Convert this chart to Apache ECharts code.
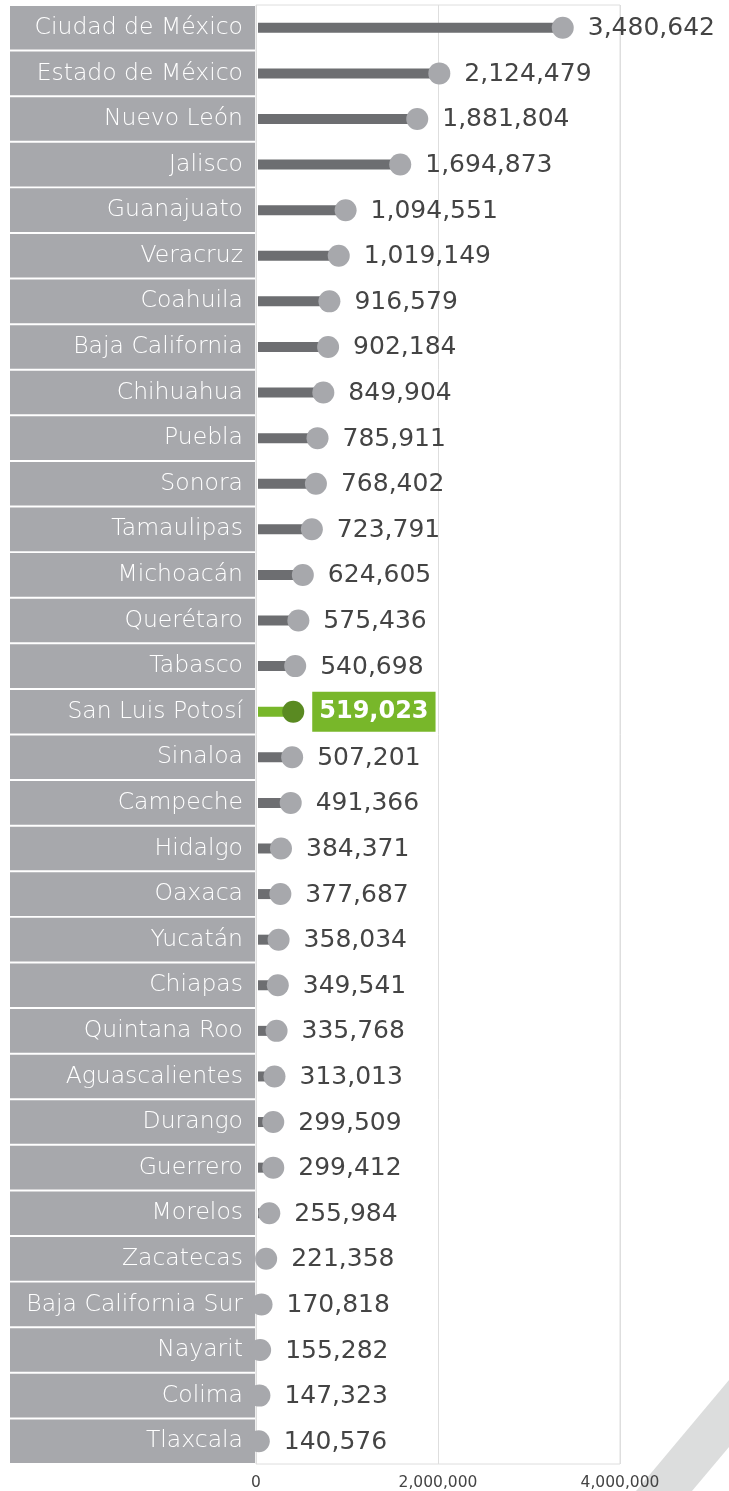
<!DOCTYPE html>
<html>
<head>
<meta charset="utf-8">
<script src="https://cdn.jsdelivr.net/npm/echarts@6/dist/echarts.min.js"></script>
<style>html,body{margin:0;padding:0;background:#fff;}#c{width:729px;height:1491px;}</style>
</head>
<body>
<div id="c"></div>
<script>
const categories = ['Ciudad de México','Estado de México','Nuevo León','Jalisco','Guanajuato','Veracruz','Coahuila','Baja California','Chihuahua','Puebla','Sonora','Tamaulipas','Michoacán','Querétaro','Tabasco','San Luis Potosí','Sinaloa','Campeche','Hidalgo','Oaxaca','Yucatán','Chiapas','Quintana Roo','Aguascalientes','Durango','Guerrero','Morelos','Zacatecas','Baja California Sur','Nayarit','Colima','Tlaxcala'];
const values = [3480642,2124479,1881804,1694873,1094551,1019149,916579,902184,849904,785911,768402,723791,624605,575436,540698,519023,507201,491366,384371,377687,358034,349541,335768,313013,299509,299412,255984,221358,170818,155282,147323,140576];
const highlight = 'San Luis Potosí';
const xTicks = [0, 2000000, 4000000];

const FONT = '"DejaVu Sans", sans-serif';
const chart = echarts.init(document.getElementById('c'));
const fmt = v => v.toLocaleString('en-US');

chart.setOption({
  animation: false,
  grid: {left: 256, right: 109, top: 5, height: 1460, show: true, borderColor: '#dedede', borderWidth: 1},
  graphic: [{
    type: 'polygon', silent: true, z: -1,
    shape: {points: [[636,1491],[729,1380],[729,1447],[692,1491]]},
    style: {fill: '#dcdddd'}
  }],
  xAxis: {
    type: 'value', min: xTicks[0], max: xTicks[xTicks.length-1], interval: 2000000,
    axisLine: {show: false}, axisTick: {show: false},
    splitLine: {lineStyle: {color: '#dedede', width: 1}},
    axisLabel: {color: '#444', fontFamily: FONT, fontSize: 15.5, margin: 11, fontWeight: 'normal',
      formatter: v => fmt(v)}
  },
  yAxis: {
    type: 'category', inverse: true, data: categories,
    axisLine: {show: false}, axisTick: {show: false},
    axisLabel: {
      margin: 1, align: 'right', verticalAlign: 'middle',
      backgroundColor: '#a7a8ac', width: 233, height: 43.6, lineHeight: 43.6,
      padding: [0, 12, 0, 0],
      color: '#fff', fontFamily: FONT, fontSize: 23.5, fontWeight: 200
    }
  },
  series: [{
    type: 'custom', clip: false,
    encode: {x: 0, y: 1},
    data: values.map((v, i) => [v, i]),
    renderItem: (params, api) => {
      const v = api.value(0), idx = api.value(1);
      const p0 = api.coord([0, idx]);
      const p = api.coord([v, idx]);
      const hl = categories[idx] === highlight;
      const cx = p[0] - 10;
      const children = [
        {type: 'rect', shape: {x: p0[0] + 2, y: p[1] - 5, width: Math.max(0, cx - p0[0] - 2), height: 10},
         style: {fill: hl ? '#78b72a' : '#6d6e71'}},
        {type: 'circle', shape: {cx: cx, cy: p[1], r: 11},
         style: {fill: hl ? '#5a8a22' : '#a7a8ac'}}
      ];
      if (hl) {
        children.push({type: 'text', style: {
          text: fmt(v), x: p[0] + 9, y: p[1], verticalAlign: 'middle', align: 'left',
          fill: '#fff', font: 'bold 24px ' + FONT,
          backgroundColor: '#78b72a', padding: [9, 7, 7, 7]
        }});
      } else {
        children.push({type: 'text', style: {
          text: fmt(v), x: p[0] + 15, y: p[1] + 1, verticalAlign: 'middle', align: 'left',
          fill: '#444', font: 'normal 25px ' + FONT
        }});
      }
      return {type: 'group', children: children};
    }
  }]
});
</script>
</body>
</html>
